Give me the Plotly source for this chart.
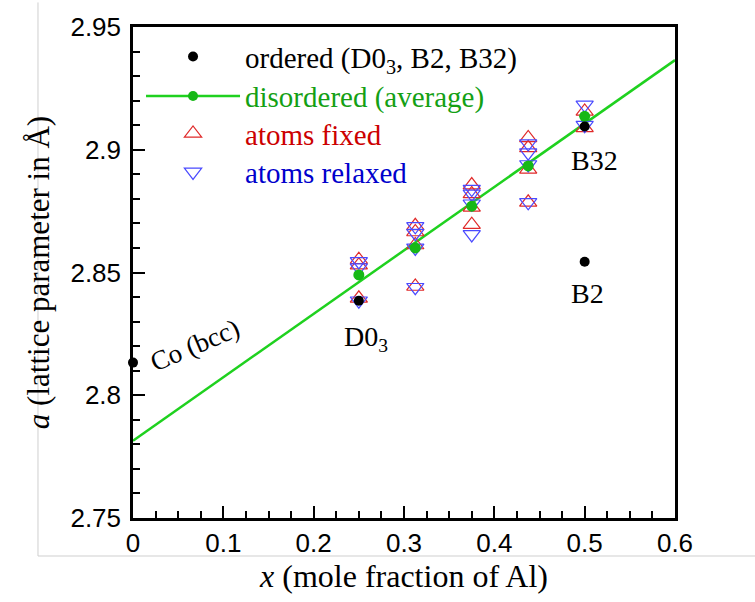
import plotly.graph_objects as go

# ---------------- data ----------------
ordered_x = [0.0, 0.25, 0.5, 0.5]
ordered_y = [2.8133, 2.8385, 2.8544, 2.9095]

avg_x = [0.25, 0.3125, 0.375, 0.4375, 0.5]
avg_y = [2.849, 2.860, 2.877, 2.8934, 2.9136]

line_x = [0.0, 0.6]
line_y = [2.7815, 2.9365]

fixed_x = [0.25, 0.25, 0.25,
           0.3125, 0.3125, 0.3125, 0.3125,
           0.375, 0.375, 0.375, 0.375,
           0.4375, 0.4375, 0.4375, 0.4375,
           0.5, 0.5]
fixed_y = [2.8552, 2.8530, 2.8395,
           2.8690, 2.8665, 2.8612, 2.8443,
           2.8856, 2.8820, 2.8765, 2.8695,
           2.9048, 2.9008, 2.8920, 2.8786,
           2.9156, 2.9089]

relaxed_x = [0.25, 0.25, 0.25,
             0.3125, 0.3125, 0.3125, 0.3125,
             0.375, 0.375, 0.375, 0.375,
             0.4375, 0.4375, 0.4375, 0.4375,
             0.5, 0.5]
relaxed_y = [2.8545, 2.8520, 2.8385,
             2.8688, 2.8660, 2.8600, 2.8440,
             2.8840, 2.8820, 2.8780, 2.8655,
             2.9025, 2.8988, 2.8940, 2.8786,
             2.9183, 2.9100]

x_tickvals = [0, 0.1, 0.2, 0.3, 0.4, 0.5, 0.6]
x_ticktext = ["0", "0.1", "0.2", "0.3", "0.4", "0.5", "0.6"]
y_tickvals = [2.75, 2.8, 2.85, 2.9, 2.95]
y_ticktext = ["2.75", "2.8", "2.85", "2.9", "2.95"]

# ---------------- styling ----------------
SERIF = "Liberation Serif, Times New Roman, serif"
SANS = "Liberation Sans, Arial, sans-serif"
GREEN_LINE = "#1fd11f"
GREEN_DOT = "#16b816"
GREEN_TEXT = "#14a014"
RED = "#e02a2a"
RED_TEXT = "#cc0000"
BLUE = "#4a4aff"
BLUE_TEXT = "#0000cc"

fig = go.Figure()

# fit line
fig.add_trace(go.Scatter(x=line_x, y=line_y, mode="lines",
                         line=dict(color=GREEN_LINE, width=2.5),
                         showlegend=False, hoverinfo="skip"))
# atoms fixed
fig.add_trace(go.Scatter(x=fixed_x, y=fixed_y, mode="markers",
                         marker=dict(symbol="triangle-up-open", size=15,
                                     color=RED, line=dict(width=1.2, color=RED)),
                         name="atoms fixed", legend="legend3"))
# atoms relaxed
fig.add_trace(go.Scatter(x=relaxed_x, y=relaxed_y, mode="markers",
                         marker=dict(symbol="triangle-down-open", size=15,
                                     color=BLUE, line=dict(width=1.2, color=BLUE)),
                         name="atoms relaxed", legend="legend4"))
# disordered average points
fig.add_trace(go.Scatter(x=avg_x, y=avg_y, mode="markers",
                         marker=dict(symbol="circle", size=11, color=GREEN_DOT),
                         showlegend=False))
# legend entry for disordered (line + dot)
fig.add_trace(go.Scatter(x=[None], y=[None], mode="lines+markers",
                         line=dict(color=GREEN_LINE, width=2.5),
                         marker=dict(symbol="circle", size=10, color=GREEN_DOT),
                         name="disordered (average)", legend="legend2"))
# ordered
fig.add_trace(go.Scatter(x=ordered_x, y=ordered_y, mode="markers",
                         marker=dict(symbol="circle", size=10, color="black"),
                         name="ordered (D0<sub>3</sub>, B2, B32)",
                         legend="legend", cliponaxis=False))

axis_common = dict(showgrid=False, zeroline=False, showline=True, linecolor="black",
                   linewidth=2.5, mirror=True, ticks="inside", ticklen=12,
                   tickwidth=2, tickcolor="black",
                   tickfont=dict(family=SANS, size=26, color="black"))

fig.update_xaxes(range=[0, 0.6], tickvals=x_tickvals, ticktext=x_ticktext,
                 minor=dict(dtick=0.025, ticks="inside", ticklen=7, tickwidth=1.8,
                            tickcolor="black"),
                 title=dict(text="<i>x</i> (mole fraction of Al)",
                            font=dict(family=SERIF, size=32, color="black"),
                            standoff=8),
                 **axis_common)
fig.update_yaxes(range=[2.75, 2.95], tickvals=y_tickvals, ticktext=y_ticktext,
                 minor=dict(dtick=0.01, ticks="inside", ticklen=7, tickwidth=1.8,
                            tickcolor="black"),
                 ticklabelstandoff=4,
                 title=dict(text="<i>a</i> (lattice parameter in Å)",
                            font=dict(family=SERIF, size=31, color="black"),
                            standoff=12),
                 **axis_common)

ann_font = dict(family=SERIF, size=28, color="black")
fig.add_annotation(x=0.0687, y=2.8205, xref="x", yref="y", text="Co (bcc)",
                   showarrow=False, textangle=-23,
                   font=dict(family=SERIF, size=27, color="black"))
fig.add_annotation(x=0.258, y=2.823, xref="x", yref="y", text="D0<sub>3</sub>",
                   showarrow=False, font=ann_font)
fig.add_annotation(x=0.5107, y=2.8955, xref="x", yref="y", text="B32",
                   showarrow=False, font=ann_font)
fig.add_annotation(x=0.503, y=2.8414, xref="x", yref="y", text="B2",
                   showarrow=False, font=ann_font)

# light grey picture frame lines
fig.add_shape(type="line", xref="paper", yref="paper", x0=-0.1753, x1=-0.1753,
              y0=-0.0774, y1=1.05, line=dict(color="#cfcfcf", width=1))
fig.add_shape(type="line", xref="paper", yref="paper", x0=-0.1753, x1=1.16,
              y0=-0.0774, y1=-0.0774, line=dict(color="#cfcfcf", width=1))


def leg(ypos, color):
    return dict(x=0.0148, y=ypos, xanchor="left", yanchor="middle",
                bgcolor="rgba(0,0,0,0)", borderwidth=0,
                font=dict(family=SERIF, size=29, color=color),
                itemwidth=94)


fig.update_layout(
    width=755, height=602,
    margin=dict(l=133, r=80, t=21, b=83.5),
    paper_bgcolor="white", plot_bgcolor="white",
    showlegend=True,
    legend=leg(0.9396, "black"),
    legend2=leg(0.8592, GREEN_TEXT),
    legend3=leg(0.7829, RED_TEXT),
    legend4=leg(0.7045, BLUE_TEXT),
)

fig.write_html("out.html")
